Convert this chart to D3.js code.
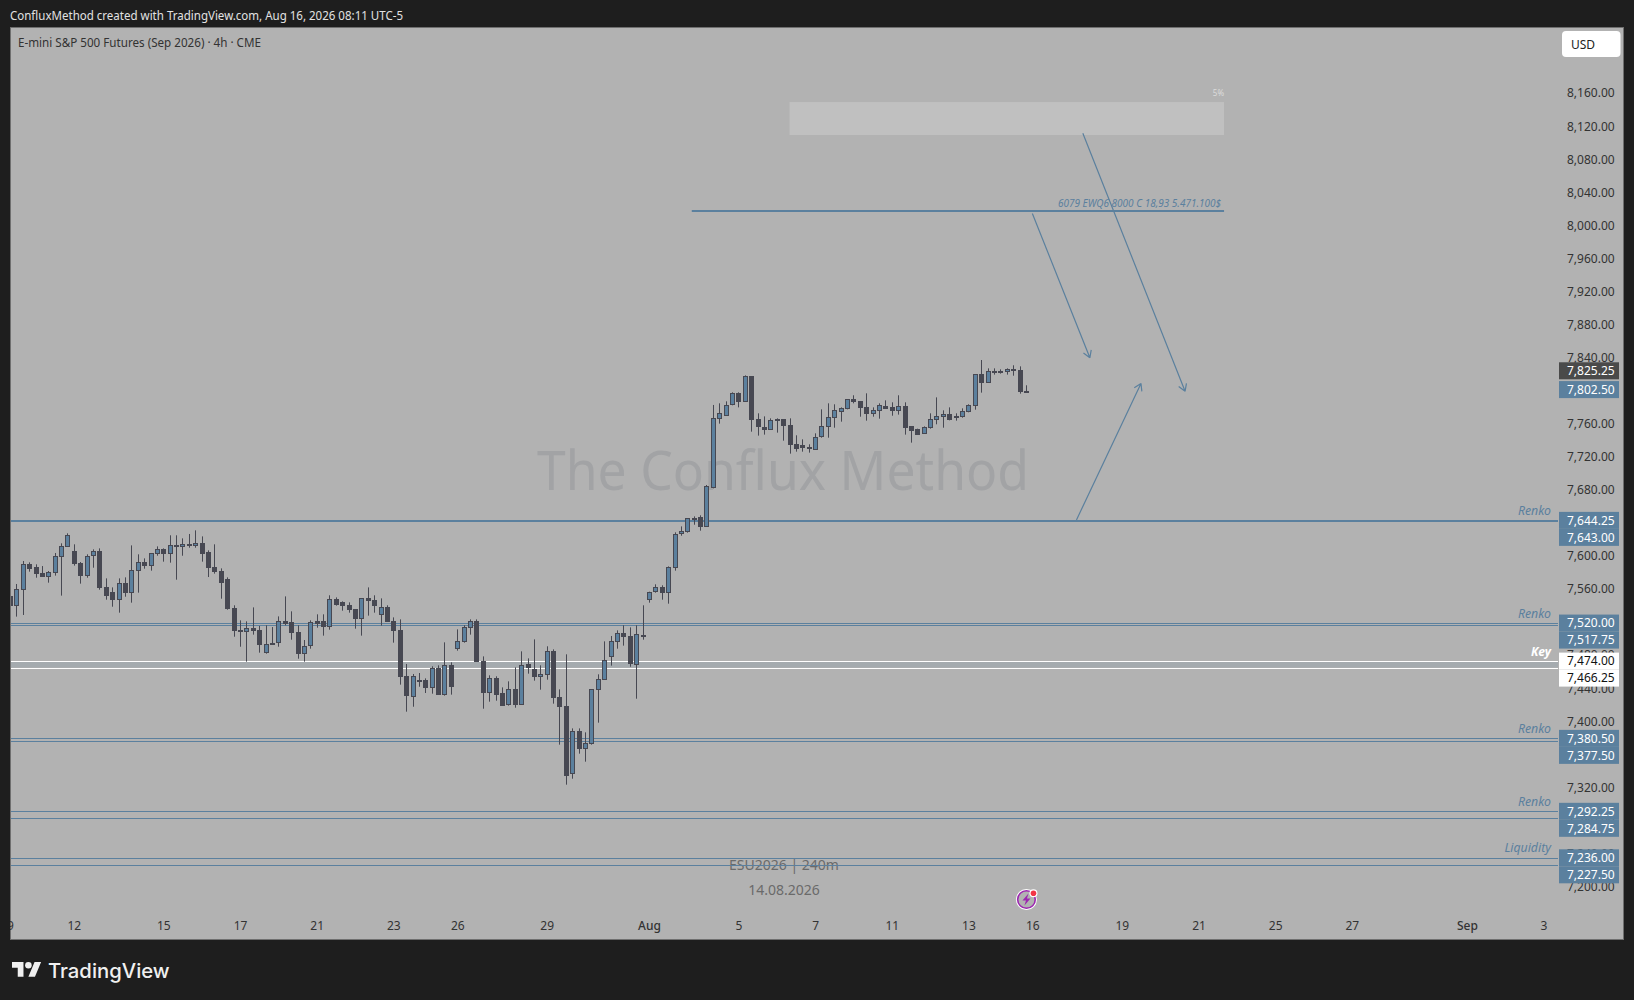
<!DOCTYPE html>
<html>
<head>
<meta charset="utf-8">
<title>E-mini S&amp;P 500 Futures 4h</title>
<script src="https://d3js.org/d3.v7.min.js"></script>
<style>
    html, body { margin: 0; padding: 0; background: #1e1e1e; overflow: hidden; }
    svg { display: block; }
    text { font-family: "Noto Sans", sans-serif; }
    .axis text { fill: #333; font-size: 12px; }
</style>
</head>
<body>
<svg id="chart" width="1634" height="1000"></svg>
<script>
// candle values (one entry per 4h bar)
var opens = [7552.3,7541.5,7560.8,7591.1,7587.4,7580.2,7576.1,7581.4,7600.7,7612.8,7606.8,7592.3,7577.4,7601.5,7606.8,7563.2,7557.2,7548.7,7568.1,7556.8,
7583.8,7593.9,7589.9,7604.4,7609.2,7604.4,7614,7612.8,7615.7,7614,7616.5,7605.6,7587.4,7582.6,7572.9,7537.8,7511.6,7509.6,7513.6,7511.2,
7484.2,7495.5,7496.3,7522.1,7520.9,7508.8,7483,7492.7,7522.1,7522.1,7515.6,7548.7,7545.1,7541.5,7536.6,7525.7,7549.9,7547.5,7530.2,7539,
7522.1,7511.2,7455.6,7431,7451.1,7450.7,7441.8,7465.2,7433.4,7468.9,7489.4,7497.5,7514.8,7522.1,7473.7,7436.2,7453.1,7435,7421.7,7439.8,
7421.7,7470.5,7464,7455.1,7458,7485.8,7430.1,7419.2,7337.8,7389,7368,7374.1,7439.8,7451.9,7479.3,7497.9,7507.6,7503.9,7470.1,7505.2,
7549.9,7558,7563.2,7557.2,7587.4,7628.2,7630.6,7646.7,7647.9,7637,7684.6,7767.7,7771.4,7784.7,7798,7788.3,7818.5,7766.5,7756.8,7754.4,
7766.5,7766.5,7759.3,7736.3,7735,7732.6,7731.4,7745.9,7757.6,7768.5,7775.8,7779.4,7790.7,7788.3,7781,7773.4,7777.4,7782.2,7781,7777,
7782.2,7758,7755.2,7749.6,7756.4,7766.1,7769.7,7772.6,7770.1,7769.7,7775.8,7783.5,7821,7811.3,7824.6,7824.6,7824.6,7827,7825.8,7801.2];
var highs = [7552.3,7567.3,7595.1,7593.5,7591.1,7589,7583,7604.8,7616.5,7628.6,7615.3,7593.9,7603.2,7609.2,7610.4,7574.1,7563.2,7574.1,7575.3,7614,
7603.2,7598.3,7604.4,7612.8,7610.4,7626.2,7626.2,7622.5,7627.8,7632.2,7624.9,7608,7615.3,7586.2,7575.3,7541.5,7523.3,7522.1,7539,7516.5,
7517.3,7515.2,7528.1,7552.3,7534.2,7517.3,7499.5,7523.3,7530.6,7530.6,7553.6,7551.1,7546.3,7545.1,7536.6,7549.9,7563.2,7553.6,7549.9,7541.5,
7526.9,7524.5,7470.5,7458.4,7459.6,7453.1,7467.7,7468.9,7496.7,7472.5,7512.4,7517.3,7524.5,7524.5,7479.7,7456.8,7455.6,7442.2,7449.5,7466.4,
7485.8,7477.3,7500.3,7468.9,7491.9,7488.2,7439.8,7482.2,7392.6,7392.6,7387.8,7439.8,7458,7497.9,7504.4,7511.2,7517.3,7514.8,7517.3,7541.5,
7558,7566.9,7565.7,7588.6,7629.8,7637,7646.7,7649.1,7650.4,7687.1,7783.9,7785.9,7788.3,7799.2,7799.2,7819.7,7818.5,7773.8,7770.1,7767.7,
7767.7,7766.5,7767.7,7747.2,7742.3,7736.3,7749.6,7778.6,7785.9,7784.7,7781,7790.7,7795.6,7788.3,7798,7781,7785.9,7789.5,7787.1,7795.6,
7787.1,7758,7755.2,7758,7773.8,7793.1,7777.4,7781,7773.8,7779.8,7784.7,7821,7838.3,7828.2,7828.2,7827,7828.2,7831.9,7830.6,7807.7];
var lows = [7541.1,7527.8,7529.8,7582.2,7574.9,7576.1,7568.9,7577.4,7553.2,7612.8,7589.5,7567.7,7574.9,7587,7560.4,7548.3,7539.8,7532.6,7551.9,7544.7,
7556.8,7585.8,7583.4,7601.5,7594.3,7593.1,7572.5,7601.5,7611.2,7611.2,7594.3,7575.7,7579.8,7549.5,7536.2,7503.5,7491.4,7473.3,7506,7484.2,
7483,7493.9,7491.4,7517.3,7499.9,7476.9,7473.3,7489,7514.4,7504.8,7512,7541.1,7535,7532.6,7513.2,7504.8,7529,7532.6,7516.9,7521.7,
7496.3,7445.5,7412.8,7418.8,7443,7435.4,7434.6,7433.4,7432.2,7433.4,7486.6,7496.3,7506,7473.3,7416.4,7424.9,7426.1,7420.1,7420.1,7417.6,
7421.7,7458.8,7450.3,7439.4,7451.5,7422.5,7372.9,7324.5,7331.7,7362,7352.3,7372.9,7399.5,7451.9,7468.5,7489,7492.7,7467.2,7428.5,7499.9,
7544.7,7556.8,7548.3,7543.5,7583.4,7625.7,7629.4,7639,7631.8,7637,7683,7761.3,7771.4,7783.5,7781,7788.3,7751.6,7746.8,7748,7754.4,
7750.4,7740.7,7725,7727.4,7727.4,7726.2,7731.4,7744.3,7744.3,7756.4,7763.7,7778.6,7785.9,7769.7,7764.9,7769.7,7767.3,7779,7770.9,7772.2,
7748,7738.3,7749.6,7749.6,7755.2,7760.5,7756.4,7765.3,7764.9,7768.5,7775,7778.2,7798.8,7810.9,7820.6,7821.8,7820.6,7819.3,7797.6,7800.4];
var closes = [7541.1,7560.8,7591.1,7585.8,7579.8,7576.1,7581.4,7600.7,7612.8,7626.2,7591.9,7577.4,7600.7,7606.8,7562.8,7553.2,7548.3,7568.1,7556.8,7583.8,
7593.5,7590.7,7604.4,7609.2,7604,7614,7612.4,7615.3,7614.9,7616.5,7604,7587,7582.2,7568.9,7537.4,7510.8,7510.8,7513.6,7510.8,7493.9,
7494.3,7493.9,7522.1,7519.7,7508.4,7483,7491.9,7520.9,7520.1,7515.6,7548.7,7542.3,7541.1,7536.2,7525.3,7549.9,7547.1,7541.1,7539,7521.7,
7510.8,7455.1,7432.2,7455.6,7450.3,7441.8,7465.2,7433.4,7468.9,7443,7497.9,7514.8,7522.1,7473.3,7435.8,7453.1,7433.4,7420.1,7439.8,7421.3,
7468.9,7467.2,7455.1,7458,7485.8,7429.7,7418.8,7335.4,7389,7368,7374.5,7439.8,7451.9,7474.9,7497.9,7507.6,7503.5,7470.9,7506.4,7503.5,
7558,7563.2,7556.8,7587.4,7627.4,7631,7646.7,7645.1,7636.6,7685.9,7767.7,7773.8,7783.5,7798,7788.3,7818.5,7766.5,7757.6,7754,7765.3,
7764.9,7758.8,7735.9,7731,7732.2,7731.4,7745.5,7758,7768.9,7777.4,7779.8,7790.7,7787.9,7781,7773.8,7777.4,7783.5,7779.4,7777,7782.2,
7756.4,7752.8,7749.6,7756.8,7766.5,7770.1,7772.6,7766.1,7769.3,7776.2,7783.5,7821,7810.9,7824.6,7823.4,7823.4,7827,7825.8,7800.4,7800.4];

// time axis: bar index of each label
var xTickBars = [0,10,24,36,48,60,70,84,100,114,126,138,150,160,174,186,198,210,228,240];
var xTickLabels = ["9","12","15","17","21","23","26","29","Aug","5","7","11","13","16","19","21","25","27","Sep","3"];
var boldTicks = ["Aug","Sep"];

var yTicks = d3.range(7200, 8161, 40);

// horizontal levels drawn across the chart, upper price of each pair carries the name
var levelPrices = [7644.25,7643,7520,7517.75,7380.5,7377.5,7292.25,7284.75,7236,7227.5];
var levelNames = ["Renko","","Renko","","Renko","","Renko","","Liquidity",""];
var keyPrices = [7474,7466.25];

var labelPrices = [7825.25,7802.5,7644.25,7643,7520,7517.75,7474,7466.25,7380.5,7377.5,7292.25,7284.75,7236,7227.5];
var labelKinds = ["last","blue","blue","blue","blue","blue","white","white","blue","blue","blue","blue","blue","blue"];

// drawings, in bar index and price
var zoneBars = [122,190];
var zonePrices = [8150.4,8110.5];
var optionBars = [106.7,190];
var optionPrice = 8018.6;
var arrowFrom = [[167.9,8112.6],[160,8015.6],[166.9,7644.7]];
var arrowTo = [[183.9,7800.4],[169,7841],[177,7810]];

var colors = { bg: "#1e1e1e", panel: "#b2b2b2", border: "#6f6f6f", dark: "#474852", blue: "#5b809e" };

var svg = d3.select("#chart");
var panel = { left: 10, top: 27, right: 1624, bottom: 940 };
var lineEnd = 1558;

var x = d3.scaleLinear().domain([0, 240]).range([9.95, 1543.55]);
var y = d3.scaleLinear().domain([7200, 8160]).range([887.56, 94.12]);

// background panel
svg.append("rect").attr("width", 1634).attr("height", 1000).attr("fill", colors.bg);
svg.append("rect")
    .attr("x", panel.left + 0.5).attr("y", panel.top + 0.5)
    .attr("width", panel.right - panel.left - 1).attr("height", panel.bottom - panel.top - 1)
    .attr("fill", colors.panel).attr("stroke", colors.border);

svg.append("defs").append("clipPath").attr("id", "plot")
    .append("rect")
    .attr("x", panel.left + 1).attr("y", panel.top + 1)
    .attr("width", lineEnd - panel.left - 1).attr("height", panel.bottom - panel.top - 2);

// header and footer
svg.append("text").attr("x", 10).attr("y", 19.5).attr("fill", "#e2e2e2").attr("font-size", 12)
    .attr("textLength", 393).attr("lengthAdjust", "spacingAndGlyphs")
    .text("ConfluxMethod created with TradingView.com, Aug 16, 2026 08:11 UTC-5");
svg.append("text").attr("x", 18).attr("y", 46.5).attr("fill", "#333").attr("font-size", 12)
    .attr("textLength", 243).attr("lengthAdjust", "spacingAndGlyphs")
    .text("E-mini S&P 500 Futures (Sep 2026) \u00b7 4h \u00b7 CME");

var logo = svg.append("g").attr("transform", "translate(12,958.7) scale(0.82)").attr("fill", "#f0f0f0");
logo.append("path").attr("d", "M14 22H7V11H0V4h14v18zM28 22h-8l7.5-18h8L28 22z");
logo.append("circle").attr("cx", 20).attr("cy", 8).attr("r", 4);
svg.append("text").attr("x", 48).attr("y", 977.5).attr("fill", "#f0f0f0")
    .attr("font-size", 20.3).attr("font-weight", 500).style("font-family", "Inter")
    .text("TradingView");

var plot = svg.append("g").attr("clip-path", "url(#plot)");

// watermark, sits behind the candles
plot.append("text").attr("x", 537).attr("y", 490).attr("fill", "#a2a3a5")
    .attr("font-size", 55).attr("textLength", 492).attr("lengthAdjust", "spacingAndGlyphs")
    .text("The Conflux Method");
plot.append("text").attr("x", 784).attr("y", 870).attr("text-anchor", "middle")
    .attr("fill", "#6a6a6a").attr("font-size", 14).text("ESU2026 | 240m");
plot.append("text").attr("x", 784).attr("y", 895).attr("text-anchor", "middle")
    .attr("fill", "#6a6a6a").attr("font-size", 14).text("14.08.2026");

// supply zone
plot.append("rect")
    .attr("x", x(zoneBars[0])).attr("y", y(zonePrices[0]))
    .attr("width", x(zoneBars[1]) - x(zoneBars[0])).attr("height", y(zonePrices[1]) - y(zonePrices[0]))
    .attr("fill", "#c0c0c0");
svg.append("text").attr("x", x(zoneBars[1])).attr("y", y(zonePrices[0]) - 6)
    .attr("text-anchor", "end").attr("fill", "#dcdcdc").attr("font-size", 8).text("5%");

// option strike line
plot.append("line")
    .attr("x1", x(optionBars[0])).attr("x2", x(optionBars[1]))
    .attr("y1", y(optionPrice)).attr("y2", y(optionPrice))
    .attr("stroke", colors.blue).attr("stroke-width", 2);
svg.append("text").attr("x", x(optionBars[1]) - 3).attr("y", y(optionPrice) - 4)
    .attr("text-anchor", "end").attr("fill", colors.blue)
    .attr("font-size", 10).attr("font-style", "italic")
    .text("6079 EWQ6 8000 C 18,93 5.471.100$");

// key zone
plot.append("rect")
    .attr("x", panel.left).attr("width", lineEnd - panel.left)
    .attr("y", y(keyPrices[0])).attr("height", y(keyPrices[1]) - y(keyPrices[0]))
    .attr("fill", "#a5abaf");
plot.selectAll(".key").data(keyPrices).enter().append("line")
    .attr("x1", panel.left).attr("x2", lineEnd)
    .attr("y1", function(d) { return Math.round(y(d)) + 0.5; })
    .attr("y2", function(d) { return Math.round(y(d)) + 0.5; })
    .attr("stroke", "#fff");

// renko and liquidity levels
plot.selectAll(".level").data(levelPrices).enter().append("line")
    .attr("x1", panel.left).attr("x2", lineEnd)
    .attr("y1", function(d) { return Math.round(y(d)) + 0.5; })
    .attr("y2", function(d) { return Math.round(y(d)) + 0.5; })
    .attr("stroke", colors.blue);

levelPrices.forEach(function(p, i) {
    if (!levelNames[i]) return;
    svg.append("text").attr("x", 1551).attr("y", y(p) - 5.5)
        .attr("text-anchor", "end").attr("fill", colors.blue)
        .attr("font-size", 12.3).attr("font-style", "italic").text(levelNames[i]);
});
svg.append("text").attr("x", 1551).attr("y", y(keyPrices[0]) - 5.5)
    .attr("text-anchor", "end").attr("fill", "#fff").attr("font-weight", 700)
    .attr("font-size", 12).attr("font-style", "italic").text("Key");

// arrows
arrowFrom.forEach(function(from, i) {
    var x1 = x(from[0]), y1 = y(from[1]), x2 = x(arrowTo[i][0]), y2 = y(arrowTo[i][1]);
    var a = Math.atan2(y2 - y1, x2 - x1);
    var path = d3.path();
    path.moveTo(x1, y1);
    path.lineTo(x2, y2);
    [-0.55, 0.55].forEach(function(da) {
        path.moveTo(x2, y2);
        path.lineTo(x2 - 8 * Math.cos(a + da), y2 - 8 * Math.sin(a + da));
    });
    plot.append("path").attr("d", path.toString()).attr("fill", "none")
        .attr("stroke", colors.blue).attr("stroke-width", 1.2);
});

// candles
var bars = opens.map(function(o, i) {
    return { i: i, o: o, h: highs[i], l: lows[i], c: closes[i] };
});
var candle = plot.selectAll(".candle").data(bars).enter().append("g").attr("class", "candle");
candle.append("line")
    .attr("x1", function(d) { return Math.round(x(d.i)) + 0.5; })
    .attr("x2", function(d) { return Math.round(x(d.i)) + 0.5; })
    .attr("y1", function(d) { return y(d.h); })
    .attr("y2", function(d) { return y(d.l); })
    .attr("stroke", colors.dark);
candle.append("rect")
    .attr("x", function(d) { return Math.round(x(d.i)) - 1.5; })
    .attr("width", 4)
    .attr("y", function(d) { return Math.round(y(Math.max(d.o, d.c))) + 0.5; })
    .attr("height", function(d) { return Math.max(1, Math.round(Math.abs(y(d.o) - y(d.c)))); })
    .attr("fill", function(d) { return d.c >= d.o ? colors.blue : colors.dark; })
    .attr("stroke", colors.dark);

// axes
var yAxis = d3.axisRight(y).tickValues(yTicks).tickSize(0).tickPadding(0)
    .tickFormat(d3.format(",.2f"));
svg.append("g").attr("class", "axis").attr("transform", "translate(1567,-1)").call(yAxis)
    .call(function(g) { g.select(".domain").remove(); });

var xAxis = d3.axisBottom(x).tickValues(xTickBars).tickSize(0).tickPadding(0)
    .tickFormat(function(d, i) { return xTickLabels[i]; });
svg.append("g").attr("class", "axis").attr("transform", "translate(0,921.5)").call(xAxis)
    .call(function(g) {
        g.select(".domain").remove();
        g.selectAll("text").attr("font-weight", function(d, i) {
            return boldTicks.indexOf(xTickLabels[i]) >= 0 ? 500 : null;
        });
    });
// left-most label is cut by the panel edge
svg.append("rect").attr("x", 0).attr("y", 900).attr("width", panel.left).attr("height", 39).attr("fill", colors.bg);

// price labels, stacked so that they do not overlap
var labelColor = { last: "#4a4a4a", blue: colors.blue, white: "#fff" };
var lastY = -100;
labelPrices.forEach(function(p, i) {
    var cy = Math.max(y(p), lastY + 17);
    lastY = cy;
    svg.append("rect").attr("x", 1559).attr("y", cy - 8.5).attr("width", 60).attr("height", 17)
        .attr("fill", labelColor[labelKinds[i]]);
    svg.append("text").attr("x", 1567).attr("y", cy + 4.3)
        .attr("font-size", 12).attr("fill", labelKinds[i] == "white" ? "#111" : "#fff")
        .text(d3.format(",.2f")(p));
});

// currency button
svg.append("rect").attr("x", 1562).attr("y", 31).attr("width", 58.5).attr("height", 26).attr("rx", 4).attr("fill", "#fff");
svg.append("text").attr("x", 1571).attr("y", 48.5).attr("font-size", 12).attr("fill", "#222").text("USD");

// lightning badge
var badge = svg.append("g").attr("transform", "translate(" + (x(159) + 0.5) + ",899.5)");
badge.append("circle").attr("r", 10.5).attr("fill", "#fff");
badge.append("circle").attr("r", 8.8).attr("fill", "#b2b2b2").attr("stroke", "#9c27b0").attr("stroke-width", 1.6);
badge.append("path").attr("d", "M2 -6 L-4 1 L-0.5 1 L-2 6 L4 -1 L0.5 -1 Z").attr("fill", "#9c27b0");
badge.append("circle").attr("cx", 7).attr("cy", -6.3).attr("r", 4).attr("fill", "#fff");
badge.append("circle").attr("cx", 7).attr("cy", -6.3).attr("r", 2.8).attr("fill", "#f23645");
</script>
</body>
</html>
